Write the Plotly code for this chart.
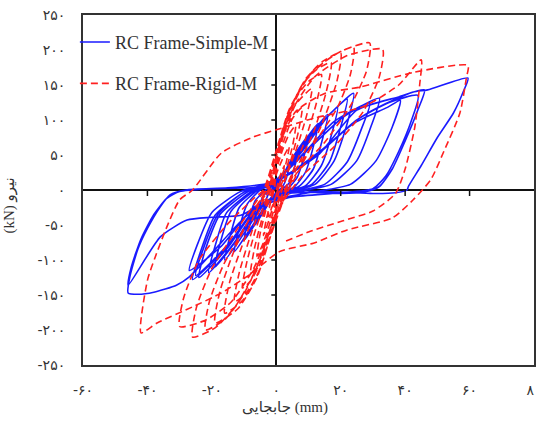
import plotly.graph_objects as go

# ---------------- data ----------------
simple_x = [0,
    1.5, 3, 4, 3.2, 2, 0.5, -1.5, -3, -4, -3.2, -2, -0.5,
    1.5, 4, 7, 5.8, 4, 1.5, -1, -3.5, -7, -5.8, -4, -1.5,
    1, 4, 7, 10, 8.6, 6.5, 3.5, 0, -3, -6.5, -10, -8.6, -6.5, -3,
    0, 4, 8.5, 13, 11.5, 9, 5.5, 1, -3, -8, -13, -11.5, -9, -5,
    0, 5, 10.5, 16, 14.3, 11.5, 7, 1, -4, -10, -16, -14.3, -11.5, -6,
    0, 6, 12.5, 19, 17.2, 14, 9, 2, -4, -12, -19, -17.2, -14, -7,
    0, 7, 14.5, 22, 20, 16.5, 11, 3, -5, -13, -21, -19, -15.5, -8,
    0, 8, 16, 24, 22, 18, 12, 3, -6, -15, -24, -22, -17.5, -9,
    0, 9, 18, 29, 26.5, 22, 15, 4, -6, -16, -26, -23.5, -19, -10,
    0, 10, 21, 32, 29.5, 25, 17, 5, -7, -17, -27, -24.5, -20, -11,
    0, 13.5, 24, 34.5, 38.5, 36, 31, 23, 10, -5, -15, -25, -22.5, -18, -10,
    0, 13, 25, 38, 46, 44, 40, 36, 32, 28, 20, 10, 0, -10, -20, -27, -31, -38, -43, -46,
    -45.5, -43, -40, -36, -33, -28, -15, -2,
    5, 15, 25, 35, 44, 42, 38, 34, 30, 20, 5, -5, -11, -20, -27.7, -36, -46,
    -45, -42, -38, -34, -30, -20, -5,
    10, 25, 32, 42.5, 47, 59.5, 58, 55, 50, 45, 41, 40.6, 37, 30, 20, 10]
simple_y = [0,
    14, 28, 35, 18, 5, -2, -10, -22, -30, -14, -3, 2,
    15, 38, 58, 35, 10, 0, -8, -28, -52, -30, -8, 1,
    12, 38, 60, 78, 48, 18, 2, -6, -22, -48, -72, -44, -15, 1,
    8, 35, 68, 95, 62, 25, 4, -5, -20, -55, -88, -55, -20, 0,
    10, 40, 78, 108, 72, 30, 5, -4, -22, -62, -100, -65, -25, -1,
    12, 45, 88, 118, 80, 35, 6, -3, -20, -70, -110, -72, -30, -2,
    12, 50, 98, 130, 90, 40, 8, -3, -22, -75, -118, -80, -33, -3,
    15, 55, 105, 138, 95, 42, 8, -4, -25, -82, -125, -85, -35, -3,
    15, 55, 98, 124, 88, 40, 8, -4, -24, -85, -128, -88, -36, -3,
    14, 58, 105, 131, 92, 42, 8, -4, -25, -80, -115, -78, -32, -2,
    12, 55, 95, 118, 128, 90, 42, 8, -4, -20, -78, -122, -82, -34, -3,
    12, 50, 114, 133, 143, 115, 70, 30, 5, -2, -5, -3, -8, -40, -90, -124, -136, -146, -149, -147,
    -125, -85, -55, -24, -7, 0, 3, 10,
    25, 60, 100, 125, 135, 100, 55, 20, 2, -4, -10, -22, -36, -39, -43, -67, -136,
    -110, -70, -35, -12, -2, 2, 5,
    40, 100, 119, 140, 143, 160, 140, 110, 75, 35, 5, 0, -4, -5, -3, -2]

rigid_x = [0,
    1, 2.5, 1.8, 0.5, -1, -2.5, -1.8, -0.6,
    0, 2, 4, 3, 1.2, -0.5, -2.2, -4, -3, -1.5, -0.8,
    0, 2, 4, 6, 5, 3, 0.5, -1.8, -4, -6, -5, -3, -1.2,
    0, 2.5, 5, 8, 6.8, 4.5, 1.5, -1, -3.5, -6, -8, -6.8, -4.5, -1.8,
    0, 2.5, 6, 11, 9.5, 6.5, 3, 0.5, -2, -5, -8, -10.5, -9.2, -6.5, -3.5, -2,
    0, 3, 7, 10.5, 14, 12.5, 9, 5, 1.5, -1.5, -5, -9, -13, -11.5, -8, -4.5, -2.3,
    0, 3, 8, 12.5, 17, 15.5, 11.5, 6, 2, -1.5, -5.5, -10.5, -16, -14.5, -10, -5.5, -2.5,
    0, 3.5, 9, 14.5, 20, 18.8, 14, 7.5, 2.5, -1.5, -6, -12, -19, -17.5, -12.5, -6.5, -3,
    0, 4, 10, 17, 24, 23, 19, 12, 5, 1, -2, -5.5, -10.5, -16, -22, -20.8, -16.5, -10, -5, -3,
    0, 4.5, 11, 20, 29, 28, 23, 15, 6, 1.5, -2.5, -6.5, -12.5, -19, -26, -24.8, -20, -12, -6, -3.5,
    0, 5, 12, 22, 33, 32, 27, 18, 8, 2, -2.5, -7, -14, -22, -30, -28.8, -24, -15, -7, -4,
    0, 6, 15, 26, 42.5, 59.5, 59, 57, 52, 48, 42.5, 36, 22, 11.5, 1,
    -8, -17, -26, -37, -42, -40, -37.6, -34, -30, -26,
    -17, -7, 0, 12, 27, 38, 45, 44.5, 43, 40, 37, 30, 20, 10, 2]
rigid_y = [0,
    18, 35, 18, 0, -20, -38, -18, 0,
    22, 45, 62, 38, 12, -15, -42, -65, -40, -12, 0,
    28, 58, 80, 92, 62, 28, -8, -45, -75, -95, -62, -25, 0,
    35, 72, 102, 118, 82, 42, 0, -40, -82, -108, -120, -84, -42, 0,
    38, 82, 122, 145, 108, 62, 18, -20, -62, -105, -130, -140, -104, -58, -18, 0,
    42, 95, 138, 157, 165, 125, 72, 25, -15, -60, -112, -145, -160, -118, -65, -20, 0,
    45, 100, 150, 172, 182, 140, 82, 28, -12, -60, -118, -158, -176, -132, -72, -22, 0,
    48, 105, 158, 184, 196, 155, 92, 32, -12, -62, -125, -170, -190, -145, -80, -25, 0,
    55, 115, 162, 190, 204, 165, 118, 68, 22, -15, -58, -105, -152, -185, -200, -160, -108, -55, -15, 0,
    57, 118, 168, 198, 210, 170, 120, 68, 22, -18, -65, -115, -165, -197, -210, -168, -112, -55, -15, 0,
    55, 115, 162, 192, 201, 162, 112, 62, 20, -18, -62, -112, -160, -186, -195, -155, -100, -48, -12, 0,
    55, 112, 138, 147, 168, 178, 160, 110, 55, 15, -14, -40, -57, -76, -88,
    -120, -147, -167, -190, -204, -129, -96, -53, -14, 0,
    53, 76, 86, 103, 119, 150, 186, 150, 90, 30, -5, -30, -45, -60, -75]

x_tick_vals = [-60, -40, -20, 0, 20, 40, 60, 80]
x_tick_text = ["-۶۰", "-۴۰", "-۲۰", "۰", "۲۰", "۴۰", "۶۰", "۸۰"]
y_tick_vals = [-250, -200, -150, -100, -50, 0, 50, 100, 150, 200, 250]
y_tick_text = ["-۲۵۰", "-۲۰۰", "-۱۵۰", "-۱۰۰", "-۵۰", "۰", "۵۰", "۱۰۰", "۱۵۰", "۲۰۰", "۲۵۰"]

series_names = ["RC Frame-Simple-M", "RC Frame-Rigid-M"]
x_title = "جابجایی (mm)"
y_title = "(kN) نیرو"

# ---------------- figure ----------------
fig = go.Figure()
fig.add_trace(go.Scatter(
    x=simple_x, y=simple_y, mode="lines", name=series_names[0],
    legendgroup="a",
    line=dict(color="#1a1aff", width=1.6, shape="spline", smoothing=0.6),
))
fig.add_trace(go.Scatter(
    x=rigid_x, y=rigid_y, mode="lines", name=series_names[1],
    legendgroup="b",
    line=dict(color="#ff2020", width=1.6, dash="7px,4px", shape="spline", smoothing=0.6),
))

serif = "Liberation Serif, Times New Roman, DejaVu Sans, serif"
tickfont = dict(family="DejaVu Sans, sans-serif", size=14, color="#333333")

fig.update_xaxes(
    range=[-60, 80], tickvals=x_tick_vals, ticktext=x_tick_text,
    ticks="outside", ticklen=11, tickcolor="rgba(0,0,0,0)",
    ticklabeloverflow="allow", automargin=False,
    showgrid=False, showline=True, mirror=True, linecolor="#333333", linewidth=2,
    zeroline=True, zerolinecolor="#111111", zerolinewidth=2,
    tickfont=tickfont,
)
fig.update_yaxes(
    range=[-250, 250], tickvals=y_tick_vals, ticktext=y_tick_text,
    ticks="outside", ticklen=13, tickcolor="rgba(0,0,0,0)",
    automargin=False,
    showgrid=False, showline=True, mirror=True, linecolor="#333333", linewidth=2,
    zeroline=True, zerolinecolor="#111111", zerolinewidth=2,
    tickfont=tickfont,
)

shapes = []
for v in y_tick_vals:
    if v in (-250, 0, 250):
        continue
    shapes.append(dict(type="line", xref="x", yref="y", xsizemode="pixel", xanchor=0,
                       x0=-5, x1=0, y0=v, y1=v, line=dict(color="#111111", width=1.5)))
for v in x_tick_vals:
    if v in (-60, 0, 80):
        continue
    shapes.append(dict(type="line", xref="x", yref="y", ysizemode="pixel", yanchor=0,
                       x0=v, x1=v, y0=0, y1=-6, line=dict(color="#111111", width=1.5)))

fig.update_layout(
    width=536, height=432,
    margin=dict(l=83, r=2, t=15, b=67, autoexpand=False),
    paper_bgcolor="white", plot_bgcolor="white",
    shapes=shapes,
    showlegend=True,
    legend=dict(x=-0.018, y=0.975, xanchor="left", yanchor="top",
                bgcolor="rgba(0,0,0,0)", font=dict(family=serif, size=18, color="#333333"),
                traceorder="grouped", tracegroupgap=15, itemwidth=30),
    annotations=[
        dict(text=x_title, xref="paper", yref="paper", x=0.448, y=-0.12,
             xanchor="center", yanchor="middle", showarrow=False,
             font=dict(family=serif, size=15, color="#333333")),
        dict(text=y_title, xref="paper", yref="paper", x=-0.163, y=0.457,
             xanchor="center", yanchor="middle", showarrow=False, textangle=-90,
             font=dict(family=serif, size=15, color="#333333")),
    ],
)

fig.write_html(
    "out.html",
    config={"displayModeBar": False},
    post_script="document.body.style.margin='0';document.body.style.overflow='hidden';",
)
